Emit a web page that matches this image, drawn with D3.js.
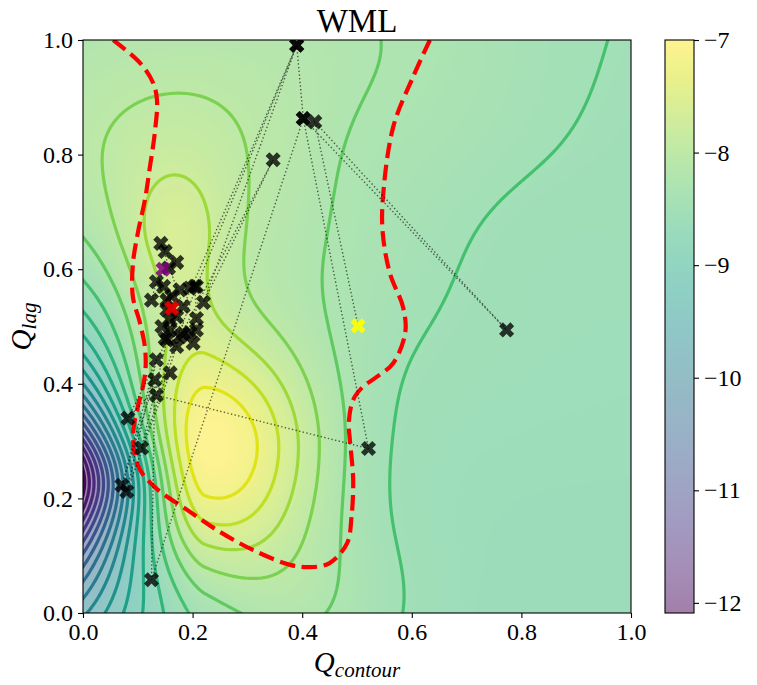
<!DOCTYPE html>
<html lang="en">
<head>
<meta charset="UTF-8" />
<title>WML</title>
<script src="https://d3js.org/d3.v7.min.js"></script>
<style>
  body { margin: 0; background: #fff; }
  svg { display: block; font-family: "Liberation Serif", "DejaVu Serif", serif; }
</style>
</head>
<body>
<svg width="757" height="685"></svg>
<script>
  // ticks and colour range
  const xTicks = [0.0, 0.2, 0.4, 0.6, 0.8, 1.0];
  const yTicks = [0.0, 0.2, 0.4, 0.6, 0.8, 1.0];
  const colorTicks = [-12, -11, -10, -9, -8, -7];
  const colorRange = [-12.09, -7.0];
  const contourLevels = [-12, -11.75, -11.5, -11.25, -11, -10.75, -10.5, -10.25,
    -10, -9.75, -9.5, -9.25, -9, -8.75, -8.5, -8.25, -8, -7.75, -7.5, -7.25];

  const surfaceBase = -8.66;
  const surfaceTiltX = 0.0;
  const surfaceTiltY = 0.12;
  //                    lower  upper  plateau shoulder ridge  lowCorner dip    bottomDip dipRight mid
  const bumpAmp     = [ 1.55,  0.44,  0.60,   0.35,    0.20,  -0.45,   -0.11,  -0.13,    -0.05,   0.03];
  const bumpX       = [ 0.24,  0.165, 0.12,   0.40,    0.55,  -0.10,    0.50,   0.20,     0.78,   0.45];
  const bumpY       = [ 0.285, 0.64,  0.78,   0.00,    1.00,   0.05,    0.80,   0.00,     0.66,   0.52];
  const bumpSx      = [ 0.135, 0.07,  0.28,   0.14,    0.22,   0.15,    0.12,   0.12,     0.12,   0.10];
  const bumpSyAbove = [ 0.14,  0.10,  0.22,   0.12,    0.30,   0.12,    0.12,   0.08,     0.10,   0.10];
  const bumpSyBelow = [ 0.155, 0.16,  0.22,   0.12,    0.30,   0.12,    0.12,   0.08,     0.10,   0.10];
  // trough along the left edge
  const valleyDepth = 3.67;
  const valleyReach = 0.22;
  const valleyPower = 1.5;
  const valleyY = 0.235;
  const valleyCore = 0.08;
  const valleyDecay = 0.115;

  // constraint boundary (red dashed)
  const boundaryX = [0.055, 0.104, 0.128, 0.135, 0.131, 0.122, 0.113, 0.100, 0.091, 0.091,
    0.104, 0.113, 0.114, 0.108, 0.100, 0.092, 0.093, 0.104, 0.133, 0.190, 0.244, 0.310,
    0.378, 0.414, 0.450, 0.482, 0.490, 0.493, 0.487, 0.485, 0.493, 0.511, 0.536, 0.566,
    0.588, 0.584, 0.560, 0.547, 0.547, 0.566, 0.602, 0.633];
  const boundaryY = [1.000, 0.960, 0.925, 0.895, 0.838, 0.778, 0.721, 0.663, 0.608, 0.552,
    0.506, 0.464, 0.424, 0.389, 0.360, 0.320, 0.285, 0.250, 0.218, 0.180, 0.145, 0.110,
    0.084, 0.080, 0.087, 0.122, 0.168, 0.232, 0.302, 0.332, 0.372, 0.395, 0.412, 0.436,
    0.489, 0.534, 0.593, 0.663, 0.720, 0.848, 0.935, 1.000];

  // evaluated points in order (first one is the start point)
  const evalX = [0.502, 0.423, 0.773, 0.402, 0.521, 0.134, 0.207, 0.390, 0.402, 0.125,
    0.131, 0.071, 0.134, 0.080, 0.159, 0.082, 0.153, 0.107, 0.177, 0.347, 0.220, 0.390,
    0.183, 0.142, 0.150, 0.171, 0.156, 0.134, 0.125, 0.147, 0.162, 0.177, 0.195, 0.204,
    0.207, 0.207, 0.183, 0.159, 0.150, 0.171, 0.159, 0.171, 0.153, 0.153, 0.195, 0.144,
    0.201, 0.162];
  const evalY = [0.501, 0.857, 0.494, 0.863, 0.287, 0.380, 0.570, 0.991, 0.863, 0.058,
    0.407, 0.223, 0.442, 0.212, 0.419, 0.340, 0.476, 0.288, 0.482, 0.791, 0.542, 0.991,
    0.535, 0.645, 0.631, 0.612, 0.602, 0.578, 0.546, 0.570, 0.553, 0.564, 0.567, 0.570,
    0.514, 0.494, 0.488, 0.494, 0.479, 0.465, 0.511, 0.517, 0.529, 0.546, 0.489, 0.500,
    0.471, 0.532];
  const firstPoint = [0.146, 0.600];
  const bestPoint = [0.162, 0.532];

  function surface(px, py) {
    let v = surfaceBase + surfaceTiltX * px + surfaceTiltY * py;
    for (let k = 0; k < bumpAmp.length; k++) {
      const dx = (px - bumpX[k]) / bumpSx[k];
      const dy = (py - bumpY[k]) / (py >= bumpY[k] ? bumpSyAbove[k] : bumpSyBelow[k]);
      v += bumpAmp[k] * Math.exp(-0.5 * (dx * dx + dy * dy));
    }
    const reach = Math.max(0, 1 - px / valleyReach);
    const dv = py - valleyY;
    const spread = Math.sqrt(dv * dv + valleyCore * valleyCore) - valleyCore;
    v -= valleyDepth * Math.pow(reach, valleyPower) * Math.exp(-spread / valleyDecay);
    return v;
  }

  const svg = d3.select("svg");
  const margin = { left: 83, top: 40 };
  const plotW = 548, plotH = 573;
  const cbX = 665, cbW = 29;
  const serif = "Liberation Serif";

  const x = d3.scaleLinear().domain([0, 1]).range([margin.left, margin.left + plotW]);
  const y = d3.scaleLinear().domain([0, 1]).range([margin.top + plotH, margin.top]);
  const cScale = d3.scaleLinear().domain(colorRange).range([margin.top + plotH, margin.top]);
  const norm = d3.scaleLinear().domain(colorRange).range([0, 1]).clamp(true);

  // viridis at alpha 0.5 over white
  function paleColor(v) {
    const c = d3.rgb(d3.interpolateViridis(norm(v)));
    return [0.5 * c.r + 127.5, 0.5 * c.g + 127.5, 0.5 * c.b + 127.5];
  }

  svg.append("defs").append("clipPath").attr("id", "plotClip")
    .append("rect")
    .attr("x", margin.left).attr("y", margin.top)
    .attr("width", plotW).attr("height", plotH);

  // background image
  const canvas = document.createElement("canvas");
  canvas.width = plotW; canvas.height = plotH;
  const ctx = canvas.getContext("2d");
  const img = ctx.createImageData(plotW, plotH);
  for (let j = 0; j < plotH; j++) {
    for (let i = 0; i < plotW; i++) {
      const v = surface(x.invert(margin.left + i + 0.5), y.invert(margin.top + j + 0.5));
      const c = paleColor(v);
      const o = 4 * (j * plotW + i);
      img.data[o] = c[0]; img.data[o + 1] = c[1]; img.data[o + 2] = c[2]; img.data[o + 3] = 255;
    }
  }
  ctx.putImageData(img, 0, 0);
  svg.append("image")
    .attr("x", margin.left).attr("y", margin.top)
    .attr("width", plotW).attr("height", plotH)
    .attr("preserveAspectRatio", "none")
    .attr("href", canvas.toDataURL());

  // contour lines
  const n = 261, gMin = -0.02, gMax = 1.02;
  const step = (gMax - gMin) / (n - 1);
  const values = new Float64Array(n * n);
  for (let j = 0; j < n; j++) {
    for (let i = 0; i < n; i++) {
      values[j * n + i] = surface(gMin + i * step, gMin + j * step);
    }
  }
  const gx = d3.scaleLinear().domain([0.5, n - 0.5]).range([gMin, gMax]);
  const proj = d3.geoTransform({
    point(px, py) { this.stream.point(x(gx(px)), y(gx(py))); }
  });
  const contourPath = d3.geoPath(proj);
  const contours = d3.contours().size([n, n]).thresholds(contourLevels)(values);

  const plot = svg.append("g").attr("clip-path", "url(#plotClip)");
  plot.selectAll("path.level")
    .data(contours)
    .enter()
    .append("path")
    .attr("class", "level")
    .attr("d", contourPath)
    .attr("fill", "none")
    .attr("stroke", d => d3.interpolateViridis(norm(d.value)))
    .attr("stroke-width", 3.2)
    .attr("stroke-linejoin", "round");

  // constraint boundary
  const boundary = boundaryX.map((d, i) => [d, boundaryY[i]]);
  plot.append("path")
    .attr("d", d3.line().x(d => x(d[0])).y(d => y(d[1])).curve(d3.curveCatmullRom)(boundary))
    .attr("fill", "none")
    .attr("stroke", "#ff0000")
    .attr("stroke-width", 4.2)
    .attr("stroke-dasharray", "15.5,6.7");

  // search path
  const evals = evalX.map((d, i) => [d, evalY[i]]);
  plot.append("path")
    .attr("d", d3.line().x(d => x(d[0])).y(d => y(d[1]))(evals))
    .attr("fill", "none")
    .attr("stroke", "#000")
    .attr("stroke-opacity", 0.6)
    .attr("stroke-width", 1.4)
    .attr("stroke-dasharray", "1.4,2.3");

  // filled X marker
  const L = 8, w = 2.7;
  const xShape = "M" + [[-w, -L], [w, -L], [w, -w], [L, -w], [L, w], [w, w], [w, L],
    [-w, L], [-w, w], [-L, w], [-L, -w], [-w, -w]].map(p => p.join(",")).join("L") + "Z";

  function addMarkers(pts, color, opacity) {
    plot.append("g").selectAll("path")
      .data(pts)
      .enter()
      .append("path")
      .attr("d", xShape)
      .attr("transform", d => `translate(${x(d[0])},${y(d[1])}) rotate(45)`)
      .attr("fill", color)
      .attr("fill-opacity", opacity);
  }
  addMarkers(evals.slice(1), "#000", 0.78);
  addMarkers([firstPoint], "#800080", 0.85);
  addMarkers([bestPoint], "#ff0000", 0.85);
  addMarkers([evals[0]], "#ffff00", 0.9);

  // frame
  svg.append("rect")
    .attr("x", margin.left).attr("y", margin.top)
    .attr("width", plotW).attr("height", plotH)
    .attr("fill", "none").attr("stroke", "#000").attr("stroke-width", 1.1);

  // axes
  const fmt = d3.format(".1f");
  const xAxis = svg.append("g")
    .attr("transform", `translate(0,${margin.top + plotH})`)
    .call(d3.axisBottom(x).tickValues(xTicks).tickFormat(fmt).tickSize(5).tickPadding(5));
  const yAxis = svg.append("g")
    .attr("transform", `translate(${margin.left},0)`)
    .call(d3.axisLeft(y).tickValues(yTicks).tickFormat(fmt).tickSize(5).tickPadding(5));

  // colour bar
  const cbCanvas = document.createElement("canvas");
  cbCanvas.width = 1; cbCanvas.height = plotH;
  const cbCtx = cbCanvas.getContext("2d");
  const cbImg = cbCtx.createImageData(1, plotH);
  for (let j = 0; j < plotH; j++) {
    const c = paleColor(cScale.invert(margin.top + j + 0.5));
    cbImg.data[4 * j] = c[0]; cbImg.data[4 * j + 1] = c[1];
    cbImg.data[4 * j + 2] = c[2]; cbImg.data[4 * j + 3] = 255;
  }
  cbCtx.putImageData(cbImg, 0, 0);
  svg.append("image")
    .attr("x", cbX).attr("y", margin.top)
    .attr("width", cbW).attr("height", plotH)
    .attr("preserveAspectRatio", "none")
    .attr("href", cbCanvas.toDataURL());
  svg.append("rect")
    .attr("x", cbX).attr("y", margin.top)
    .attr("width", cbW).attr("height", plotH)
    .attr("fill", "none").attr("stroke", "#000").attr("stroke-width", 1.1);
  const cAxis = svg.append("g")
    .attr("transform", `translate(${cbX + cbW},0)`)
    .call(d3.axisRight(cScale).tickValues(colorTicks).tickFormat(d3.format("d")).tickSize(5).tickPadding(5));

  [xAxis, yAxis, cAxis].forEach(a => {
    a.attr("font-family", serif).attr("font-size", 24);
    a.select(".domain").remove();
    a.selectAll(".tick line").attr("stroke", "#000").attr("stroke-width", 1.1);
    a.selectAll(".tick text").attr("fill", "#000").attr("font-family", serif);
  });

  // title and labels
  svg.append("text")
    .attr("x", margin.left + plotW / 2).attr("y", 32)
    .attr("text-anchor", "middle")
    .attr("font-family", serif)
    .attr("font-size", 33)
    .text("WML");

  const xLabel = svg.append("text")
    .attr("x", margin.left + plotW / 2).attr("y", 672)
    .attr("text-anchor", "middle")
    .attr("font-family", serif)
    .attr("font-style", "italic");
  xLabel.append("tspan").attr("font-size", 29).text("Q");
  xLabel.append("tspan").attr("dy", 5).attr("font-size", 21).text("contour");

  const yLabel = svg.append("text")
    .attr("transform", `translate(31,${margin.top + plotH / 2}) rotate(-90)`)
    .attr("text-anchor", "middle")
    .attr("font-family", serif)
    .attr("font-style", "italic");
  yLabel.append("tspan").attr("font-size", 29).text("Q");
  yLabel.append("tspan").attr("dy", 5).attr("font-size", 21).text("lag");
</script>
</body>
</html>
